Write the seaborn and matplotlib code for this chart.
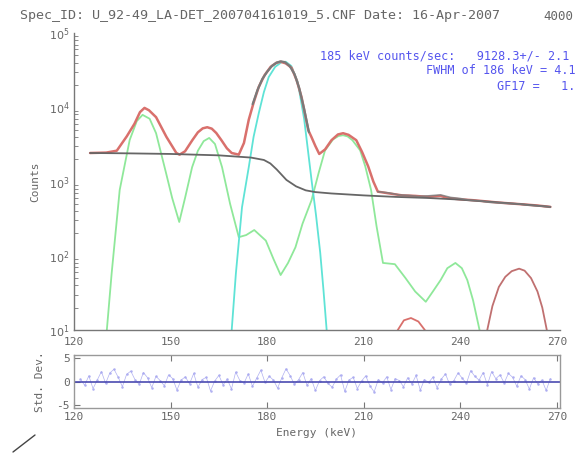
import numpy as np
import pandas as pd
import matplotlib
matplotlib.use("Agg")
import matplotlib.pyplot as plt
import seaborn as sns
from matplotlib.lines import Line2D
from matplotlib.ticker import LogLocator, FixedLocator

sns.set_theme(style="white")
plt.rcParams['font.family'] = ['DejaVu Sans Mono', 'DejaVu Sans']

# ---------------- data ----------------
bg_E = [125, 135, 150, 165, 175, 179, 181, 183, 186, 189, 192, 195, 200, 210, 220, 230, 240, 250, 260, 268]
bg_c = [2420, 2400, 2350, 2250, 2100, 1950, 1750, 1450, 1050, 860, 760, 720, 690, 650, 620, 600, 570, 530, 490, 455]

fit_E = [125, 130, 133.3, 136.4, 138.8, 140.5, 141.9, 143.3, 145.5, 148.7, 151.8, 152.8, 154.5, 156.8,
         158.5, 160, 161.4, 162.8, 164.2, 165.8, 167.5, 169, 171.2, 172.8, 174.3, 175.8, 177.4, 179.2,
         181.1, 182.8, 184.1, 185.8, 187.6, 189.2, 190.7, 192.8, 193.8, 195, 196.2, 198, 200, 202, 203.6,
         205.3, 207.7, 209.5, 211.4, 213, 214.4, 218, 222, 226, 230, 233.9, 236, 240, 244, 248, 252, 256,
         260, 264, 268]
fit_c = [2420, 2450, 2600, 4060, 6000, 8600, 9800, 9100, 7350, 4000, 2420, 2300, 2550, 3620,
         4600, 5200, 5380, 5150, 4500, 3600, 2800, 2420, 2300, 3300, 6800, 11500, 18800, 27000,
         35000, 39500, 41000, 39000, 34000, 23000, 13700, 4900, 3950, 3000, 2350, 2700, 3600, 4300, 4470,
         4250, 3600, 2500, 1600, 1000, 730, 690, 650, 640, 620, 640, 600, 575, 560, 540, 520, 505,
         490, 475, 455]

red_arc1_E = [219.5, 220.6, 222.5, 224.7, 227, 229, 230]
red_arc1_c = [7, 10, 13.5, 14.5, 13, 10, 7]
red_arc2_E = [247.5, 248.4, 250, 252, 254, 256, 258.3, 260, 262, 264, 265.5, 266.9, 267.5]
red_arc2_c = [7, 10, 21, 38, 52, 62, 67, 63, 50, 33, 20, 10, 7]

peak_E = [175.5, 177, 178.5, 180, 181.5, 183, 184.3, 185.5, 187, 188.5, 190, 191.5, 193]
peak_c = [11000, 17000, 24000, 30000, 36000, 40000, 41500, 40500, 36000, 28000, 18000, 9500, 4600]
tail_E = [214.4, 218, 221, 224, 227, 230, 233.9, 237, 240, 243, 246, 249, 252, 255, 258, 261, 264, 268]
tail_c = [730, 700, 660, 650, 630, 640, 660, 610, 590, 560, 550, 525, 515, 505, 500, 480, 470, 455]

grn_E = [129, 130.2, 131.7, 134.2, 137.3, 139.5, 141.3, 143.5, 145.5, 148.6, 150.5, 152.7, 154.5, 156.7, 158.5,
         160.3, 162, 163.8, 166, 168.5, 171.2, 173.5, 176, 179.6, 182, 184.2, 186.5, 188.8, 191, 193.8,
         196, 198, 200.5, 202.2, 203.6, 205, 206.5, 208.9, 210.5, 212.3, 214, 216, 219.7, 223, 226, 229.3,
         231.5, 233.9, 236, 238.5, 240.5, 242.2, 244, 246, 247]
grn_c = [3, 10, 58, 770, 3620, 6500, 7900, 7000, 4470, 1300, 600, 285, 600, 1560, 2600,
         3500, 3860, 3200, 1560, 500, 178, 190, 222, 160, 90, 55, 80, 130, 270, 560,
         1300, 2630, 3700, 4100, 4200, 4050, 3600, 2630, 1600, 770, 250, 80, 77, 50, 33, 24,
         33, 47, 68, 80, 68, 47, 25, 10, 4]

cyan_E = [168.5, 169, 170.3, 172.2, 174.3, 175.8, 177.4, 179, 180.5, 182.5, 184.5, 185.8, 187.5, 189.5,
          191.5, 193.8, 195.2, 196.5, 197.5, 198.5, 199]
cyan_c = [5, 10, 58, 450, 1560, 4000, 8300, 16000, 25500, 35000, 40500, 41000, 36000, 22000,
          7000, 1050, 350, 110, 35, 10, 5]

resid = [0.5, -0.8, 1.2, -1.5, 0.3, 2.1, -0.4, 1.8, 2.6, 0.9, -1.1, 1.5, 2.2, 0.4, -0.6, 1.9, 0.8, -1.3,
         1.1, 0.2, -0.9, 1.4, 0.6, -1.8, 0.3, 1.0, -0.5, 1.7, -1.2, 0.4, 0.9, -2.0, 0.1, 1.3, -0.7, 0.5,
         -1.6, 2.0, 0.2, -0.3, 1.6, -1.0, 0.7, 2.4, -0.2, 1.1, 0.3, -1.4, 0.8, 2.7, 1.2, -0.6, 0.4, 1.9,
         -0.8, 0.6, -1.9, 0.2, 1.0, -0.4, -1.2, 0.5, 1.4, -2.1, 0.3, 0.9, -1.5, 0.1, 1.2, -0.9, -2.2, 0.4,
         -0.3, 1.0, -1.7, 0.6, 0.2, -1.1, 0.8, -0.5, 1.3, -1.8, 0.4, -0.2, 0.9, -1.3, 0.5, 1.6, -0.6, 0.2,
         1.8, 0.7, -0.4, 2.3, 1.1, 0.3, 1.9, -0.7, 2.1, 0.6, 1.4, -0.3, 1.7, 0.9, -1.0, 1.2, 0.4, -1.6,
         0.8, -0.5, 0.3, -1.9, 0.6]
resid_E = np.linspace(122, 268, len(resid))

title_text = "Spec_ID: U_92-49_LA-DET_200704161019_5.CNF Date: 16-Apr-2007"
live_text = "4000"
info_lines = ["185 keV counts/sec:   9128.3+/- 2.1",
              "FWHM of 186 keV = 4.1",
              "GF17 =   1."]
xticks = [120, 150, 180, 210, 240, 270]
yticks = [10, 100, 1000, 10000, 100000]
ytick_labels = [r"$10^1$", r"$10^2$", r"$10^3$", r"$10^4$", r"$10^5$"]
rticks = [5, 0, -5]

# ---------------- figure ----------------
W, H = 577, 453
fig = plt.figure(figsize=(W / 100, H / 100), dpi=100)
fig.patch.set_facecolor("white")

def fx(px):
    return px / W

def fy(py):
    return 1 - py / H

ax = fig.add_axes([fx(74), fy(330), fx(560) - fx(74), fy(33) - fy(330)])
axr = fig.add_axes([fx(74), fy(408), fx(560) - fx(74), fy(355) - fy(408)])

txt_col = "#666666"
fs = 8
red = "#d9706c"
grey = "#7a7a7a"
green = "#8fe89a"
cyan = "#5fe3d6"

kw = dict(estimator=None, sort=False)
sns.lineplot(x=grn_E, y=grn_c, ax=ax, color=green, lw=1.3, **kw)
sns.lineplot(x=cyan_E, y=cyan_c, ax=ax, color=cyan, lw=1.3, **kw)
sns.lineplot(x=fit_E, y=fit_c, ax=ax, color=red, lw=1.8, **kw)
sns.lineplot(x=red_arc1_E, y=red_arc1_c, ax=ax, color=red, lw=1.3, **kw)
sns.lineplot(x=red_arc2_E, y=red_arc2_c, ax=ax, color="#c07070", lw=1.3, **kw)
sns.lineplot(x=bg_E, y=bg_c, ax=ax, color="#666666", lw=1.3, **kw)
sns.lineplot(x=peak_E, y=peak_c, ax=ax, color=grey, lw=1.6, **kw)
sns.lineplot(x=tail_E, y=tail_c, ax=ax, color=grey, lw=1.2, alpha=0.8, **kw)

ax.set_yscale("log")
ax.set_xlim(120, 271)
ax.set_ylim(10, 100000)
ax.set_xticks(xticks)
ax.set_xticklabels([str(t) for t in xticks])
ax.yaxis.set_major_locator(FixedLocator(yticks))
ax.set_yticklabels(ytick_labels)
ax.yaxis.set_minor_locator(LogLocator(base=10, subs=np.arange(2, 10) * 1.0))
ax.yaxis.set_minor_formatter(plt.NullFormatter())
ax.tick_params(axis="both", which="both", direction="in", colors="#777777",
               labelcolor=txt_col, labelsize=fs, pad=3)
ax.tick_params(axis="y", which="major", length=5, width=0.8)
ax.tick_params(axis="y", which="minor", length=3, width=0.6, left=True)
ax.tick_params(axis="x", which="major", length=4, width=0.8, pad=5)
for s in ["top", "right"]:
    ax.spines[s].set_visible(False)
for s in ["left", "bottom"]:
    ax.spines[s].set_color("#777777")
    ax.spines[s].set_linewidth(1.0)
ax.set_xlabel("")
ax.set_ylabel("Counts", fontsize=fs, color=txt_col, labelpad=6)

# residuals
sns.lineplot(x=resid_E, y=resid, ax=axr, color="#a8a8f0", lw=0.5, marker="o", markersize=1.8,
             markeredgewidth=0, alpha=0.9, **kw)
axr.axhline(0, color="#4a4ab0", lw=1.2)
axr.set_xlim(120, 271)
axr.set_ylim(-5.6, 5.6)
axr.set_xticks(xticks)
axr.set_xticklabels([str(t) for t in xticks])
axr.set_yticks(rticks)
axr.set_yticklabels([str(t) for t in rticks])
axr.tick_params(axis="both", direction="in", colors="#777777", labelcolor=txt_col,
                labelsize=fs, length=4, width=0.8, top=True, bottom=True, left=True, pad=3)
for s in axr.spines.values():
    s.set_color("#999999")
    s.set_linewidth(1.0)
axr.set_xlabel("Energy (keV)", fontsize=fs, color=txt_col, labelpad=4)
axr.set_ylabel("Std. Dev.", fontsize=fs, color=txt_col, labelpad=8)

# texts
fig.text(fx(20), fy(16), title_text, fontsize=9.6, color=txt_col, va="center", ha="left")
fig.text(fx(543), fy(16), live_text, fontsize=9.0, color=txt_col, va="center", ha="left")
blue = "#5555ee"
fig.text(fx(320), fy(56), info_lines[0], fontsize=8.5, color=blue, va="center", ha="left")
fig.text(fx(426), fy(71), info_lines[1], fontsize=8.5, color=blue, va="center", ha="left")
fig.text(fx(497), fy(86), info_lines[2], fontsize=8.5, color=blue, va="center", ha="left")

fig.add_artist(Line2D([fx(13), fx(35)], [fy(452), fy(435)], color="#444444", lw=1.0))

fig.savefig("out.png", dpi=100)
